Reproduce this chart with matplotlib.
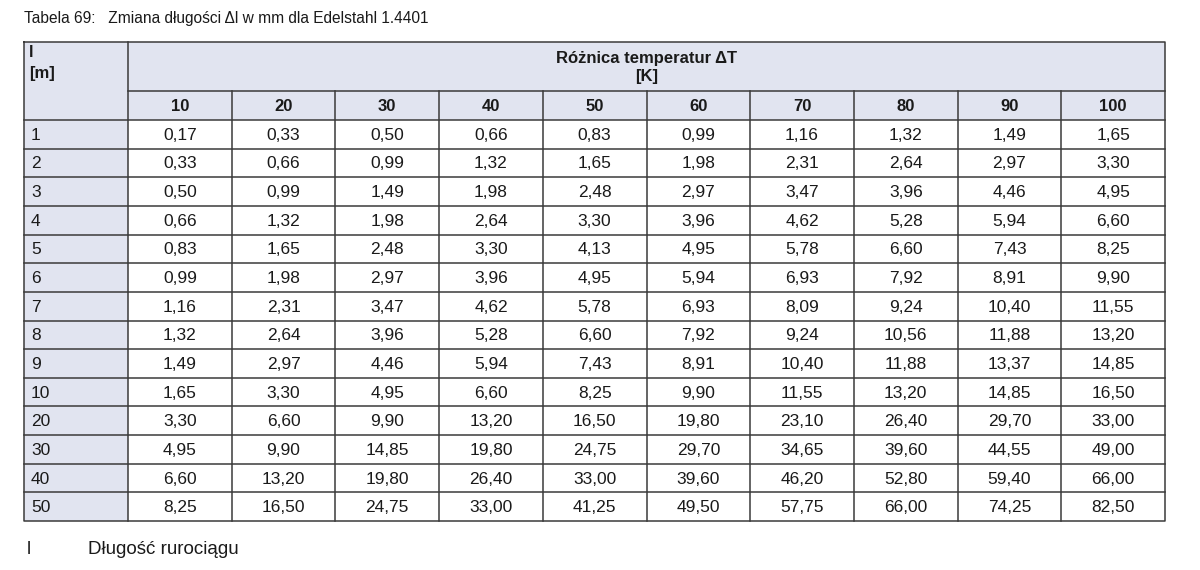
import matplotlib
matplotlib.use("Agg")
import matplotlib.pyplot as plt
from matplotlib.patches import Rectangle

plt.rcParams['font.family'] = ['Liberation Sans', 'DejaVu Sans']

title = "Tabela 69:   Zmiana długości Δl w mm dla Edelstahl 1.4401"
row_header = "l\n[m]"
group_header = "Różnica temperatur ΔT\n[K]"
footnote_key = "l"
footnote_text = "Długość rurociągu"

delta_t = [10, 20, 30, 40, 50, 60, 70, 80, 90, 100]
lengths = [1, 2, 3, 4, 5, 6, 7, 8, 9, 10, 20, 30, 40, 50]
values = [
    [0.17, 0.33, 0.50, 0.66, 0.83, 0.99, 1.16, 1.32, 1.49, 1.65],
    [0.33, 0.66, 0.99, 1.32, 1.65, 1.98, 2.31, 2.64, 2.97, 3.30],
    [0.50, 0.99, 1.49, 1.98, 2.48, 2.97, 3.47, 3.96, 4.46, 4.95],
    [0.66, 1.32, 1.98, 2.64, 3.30, 3.96, 4.62, 5.28, 5.94, 6.60],
    [0.83, 1.65, 2.48, 3.30, 4.13, 4.95, 5.78, 6.60, 7.43, 8.25],
    [0.99, 1.98, 2.97, 3.96, 4.95, 5.94, 6.93, 7.92, 8.91, 9.90],
    [1.16, 2.31, 3.47, 4.62, 5.78, 6.93, 8.09, 9.24, 10.40, 11.55],
    [1.32, 2.64, 3.96, 5.28, 6.60, 7.92, 9.24, 10.56, 11.88, 13.20],
    [1.49, 2.97, 4.46, 5.94, 7.43, 8.91, 10.40, 11.88, 13.37, 14.85],
    [1.65, 3.30, 4.95, 6.60, 8.25, 9.90, 11.55, 13.20, 14.85, 16.50],
    [3.30, 6.60, 9.90, 13.20, 16.50, 19.80, 23.10, 26.40, 29.70, 33.00],
    [4.95, 9.90, 14.85, 19.80, 24.75, 29.70, 34.65, 39.60, 44.55, 49.00],
    [6.60, 13.20, 19.80, 26.40, 33.00, 39.60, 46.20, 52.80, 59.40, 66.00],
    [8.25, 16.50, 24.75, 33.00, 41.25, 49.50, 57.75, 66.00, 74.25, 82.50],
]

W, H = 1200, 570
fig = plt.figure(figsize=(W / 100, H / 100), dpi=100)
ax = fig.add_axes([0, 0, 1, 1])
ax.set_xlim(0, W)
ax.set_ylim(H, 0)
ax.axis('off')

header_fill = '#e1e4f0'
line_c = '#3a3a3a'
text_c = '#1a1a1a'
lw = 1.1

left, right = 24, 1165
first_w = 104
top = 42
h1 = 91
h2 = 120
bottom = 521
ncols = len(delta_t)
nrows = len(lengths)
col_w = (right - left - first_w) / ncols
row_h = (bottom - h2) / nrows
xs = [left + first_w + i * col_w for i in range(ncols + 1)]
ys = [h2 + j * row_h for j in range(nrows + 1)]

# header backgrounds
ax.add_patch(Rectangle((left, top), right - left, h2 - top, facecolor=header_fill, edgecolor='none'))
ax.add_patch(Rectangle((left, h2), first_w, bottom - h2, facecolor=header_fill, edgecolor='none'))

# lines
ax.plot([left, right, right, left, left], [top, top, bottom, bottom, top], color=line_c, lw=lw, solid_capstyle='projecting')
ax.plot([xs[0], xs[0]], [top, bottom], color=line_c, lw=lw)
ax.plot([xs[0], right], [h1, h1], color=line_c, lw=lw)
for x in xs[1:-1]:
    ax.plot([x, x], [h1, bottom], color=line_c, lw=lw)
for y in ys[:-1]:
    ax.plot([left, right], [y, y], color=line_c, lw=lw)

fs = 12.5
ax.text(left, 18, title, fontsize=11.2, color=text_c, va='center', ha='left')
ax.text(left + 5, 45, row_header, fontsize=12, fontweight='bold', color=text_c, va='top', ha='left', linespacing=1.5)
ax.text((xs[0] + right) / 2, (top + h1) / 2 + 1, group_header, fontsize=12, fontweight='bold', color=text_c,
        va='center', ha='center', linespacing=1.3)
for i, t in enumerate(delta_t):
    ax.text((xs[i] + xs[i + 1]) / 2, (h1 + h2) / 2 + 1, str(t), fontsize=12, fontweight='bold', color=text_c,
            va='center', ha='center')
for j, l in enumerate(lengths):
    yc = (ys[j] + ys[j + 1]) / 2 + 1
    ax.text(left + 7, yc, str(l), fontsize=fs, color=text_c, va='center', ha='left')
    for i in range(ncols):
        s = f"{values[j][i]:.2f}".replace('.', ',')
        ax.text((xs[i] + xs[i + 1]) / 2, yc, s, fontsize=fs, color=text_c, va='center', ha='center')

ax.text(left + 3, 549, footnote_key, fontsize=13.5, color=text_c, va='center', ha='left')
ax.text(88, 549, footnote_text, fontsize=13.5, color=text_c, va='center', ha='left')

fig.savefig('out.png', dpi=100, facecolor='white')
